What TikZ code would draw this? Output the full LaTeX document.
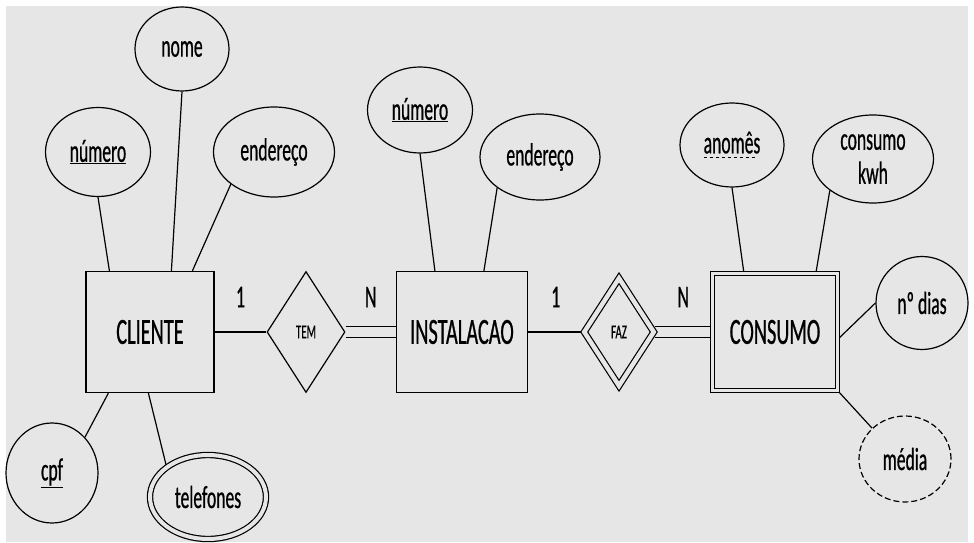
\documentclass[tikz,border=0pt]{standalone}
\usepackage{fontspec}
\setmainfont{Carlito}[FakeStretch=0.55, FakeBold=0.6]
\usepackage{xcolor}
\usetikzlibrary{shapes.geometric, backgrounds, positioning}
\definecolor{bggray}{RGB}{230,230,230}
% dashed underline for partial keys
\newsavebox{\keybox}
\newcommand{\dashkey}[1]{\sbox{\keybox}{#1}%
  \rlap{\raisebox{-5pt}{\hbox to \wd\keybox{\leaders\hbox to 6pt{\rule{3.5pt}{1.2pt}\hss}\hfill}}}%
  \usebox{\keybox}}
\tikzset{
  % Entity box style
  ent/.style={
    draw, line width=1.2pt, fill=bggray,
    minimum width=128pt, minimum height=121pt, inner sep=0pt,
    font=\fontsize{37}{40}\selectfont
  },
  % weak entity: double box
  wkent/.style={ent, double=bggray, double distance=2.8pt,
    minimum width=125pt, minimum height=117pt},
  % attribute ellipses
  attr/.style={
    draw, ellipse, line width=1.2pt, fill=bggray, inner sep=0pt,
    font=\fontsize{32}{34}\selectfont
  },
  mvattr/.style={attr, double=bggray, double distance=4pt},
  drvattr/.style={attr, dash pattern=on 6pt off 3pt},
  % relationship diamonds
  rel/.style={
    draw, diamond, line width=1.2pt, fill=bggray, inner sep=0pt,
    minimum width=78pt, minimum height=121pt,
    font=\fontsize{20}{21}\selectfont
  },
  idrel/.style={rel, double=bggray, double distance=4.5pt,
    minimum width=70pt, minimum height=108pt},
  % connectors and cardinalities
  conn/.style={line width=1.2pt},
  dconn/.style={conn, double=bggray, double distance=9.5pt},
  card/.style={inner sep=0pt, font=\fontsize{32}{34}\selectfont},
}

\begin{document}
\begin{tikzpicture}[x=1pt, y=-1pt]
  % entities and relationships
  \node[ent]   (cliente)    at (150,332) {CLIENTE};
  \node[rel]   (tem)        at (306,332) {TEM};
  \node[ent, minimum width=131pt] (instalacao) at (462,332) {INSTALACAO};
  \node[idrel] (faz)        at (619,332) {FAZ};
  \node[wkent] (consumo)    at (775,332) {CONSUMO};

  % attributes of CLIENTE
  \node[attr, minimum width=105pt, minimum height=89pt] (numcli)  at (98,152)  {\underline{número}};
  \node[attr, minimum width=94pt,  minimum height=84pt] (nome)    at (182,49)  {nome};
  \node[attr, minimum width=121pt, minimum height=90pt] (endcli)  at (274,152) {endereço};
  \node[attr, minimum width=92pt,  minimum height=100pt] (cpf)    at (52,473)  {\underline{cpf}};
  \node[mvattr, minimum width=116pt, minimum height=84pt] (fones) at (208,497) {telefones};

  % attributes of INSTALACAO
  \node[attr, minimum width=105pt, minimum height=86pt] (numinst) at (420,110) {\underline{número}};
  \node[attr, minimum width=120pt, minimum height=86pt] (endinst) at (540,157) {endereço};

  % attributes of CONSUMO
  \node[attr, minimum width=104pt, minimum height=84pt] (anomes)  at (732,145) {\dashkey{anomês}};
  \node[attr, minimum width=121pt, minimum height=88pt, align=center] (kwh) at (873,159) {consumo\\kwh};
  \node[attr, minimum width=92pt,  minimum height=93pt] (dias)    at (922,303) {nº dias};
  \node[drvattr, minimum width=92pt, minimum height=86pt] (media) at (905,459) {média};

  \begin{scope}[on background layer]
    \fill[white] (0,0) rectangle (974,542);
    \fill[bggray] (6,6) rectangle (968,542);

    \draw[conn] (cliente.east) -- node[card, midway, above=24pt] (c1) {1} (tem.west);
    \draw[dconn] (tem.east) -- node[card, midway, above=24pt] (c2) {N} (instalacao.west);
    \draw[conn] (instalacao.east) -- node[card, midway, above=24pt] (c3) {1} (faz.west);
    \draw[dconn] (faz.east) -- node[card, midway, above=24pt] (c4) {N} (consumo.west);

    \draw[conn] (numcli.south) -- ([xshift=24pt]cliente.north west);
    \draw[conn] (nome.south) -- ([xshift=86pt]cliente.north west);
    \draw[conn] (endcli.south west) -- ([xshift=107pt]cliente.north west);
    \draw[conn] (cpf.north east) -- ([xshift=23pt]cliente.south west);
    \draw[conn] (fones.north west) -- ([xshift=63pt]cliente.south west);

    \draw[conn] (numinst.south) -- ([xshift=39pt]instalacao.north west);
    \draw[conn] (endinst.south west) -- ([xshift=88pt]instalacao.north west);

    \draw[conn] (anomes.south) -- ([xshift=32pt]consumo.north west);
    \draw[conn] (kwh.south west) -- ([xshift=104pt]consumo.north west);
    \draw[conn] (dias.west) -- ([yshift=-7pt]consumo.east);
    \draw[conn] (media.north west) -- (consumo.south east);
  \end{scope}
\end{tikzpicture}
\end{document}
